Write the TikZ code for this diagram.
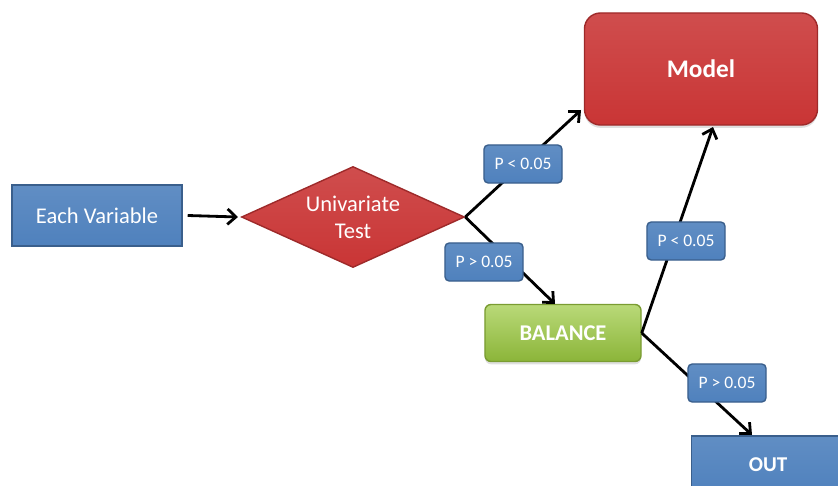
\documentclass[tikz,border=0pt]{standalone}
\usepackage{fontspec}
\setmainfont{Carlito}
\usetikzlibrary{arrows.meta,shapes.geometric,shadows}
\definecolor{stepblue}{HTML}{4F81BD}
\definecolor{stepblueline}{HTML}{3A5F8C}
\definecolor{testred}{HTML}{C93535}
\definecolor{testredline}{HTML}{9E2A2A}
\definecolor{balgreen}{HTML}{9BC93F}
\definecolor{balgreenline}{HTML}{7A9C32}

\tikzset{
  bluebox/.style={draw=stepblueline, line width=1pt, top color=stepblue!90!white,
    bottom color=stepblue, text=white, font=\fontsize{16}{18}\selectfont},
  redbox/.style={draw=testredline, line width=1pt, top color=testred!88!white,
    bottom color=testred, text=white},
  plabel/.style={bluebox, rounded corners=3pt, minimum width=1.95cm,
    minimum height=0.95cm, inner sep=1pt, font=\fontsize{12.5}{14}\selectfont},
  flow/.style={line width=2pt, -{Straight Barb[length=6pt,width=11pt]}}
}

\begin{document}
\begin{tikzpicture}[x=0.025cm, y=-0.025cm]
  \useasboundingbox (0,0) rectangle (838,486);

  % nodes
  \node[bluebox, minimum width=4.25cm, minimum height=1.525cm] (each) at (97,215.5) {Each Variable};
  \node[redbox, diamond, aspect=2.2, inner sep=0pt, minimum width=5.575cm,
        minimum height=2.525cm, align=center, font=\fontsize{16}{19}\selectfont] (test) at (353,217) {Univariate\\Test};
  \node[redbox, rounded corners=0.4cm, minimum width=5.825cm, minimum height=2.8cm,
        drop shadow={shadow xshift=0pt, shadow yshift=-2pt, opacity=0.25},
        font=\fontsize{18}{20}\selectfont\bfseries] (model) at (701,69) {Model};
  \node[draw=balgreenline, line width=1pt, top color=balgreen!70!white, bottom color=balgreen!90!black,
        text=white, rounded corners=0.15cm, minimum width=3.9cm, minimum height=1.425cm,
        drop shadow={shadow xshift=0pt, shadow yshift=-2pt, opacity=0.25},
        font=\fontsize{16}{18}\selectfont\bfseries] (balance) at (563,333) {BALANCE};
  \node[bluebox, minimum width=3.825cm, minimum height=1.45cm,
        font=\fontsize{15}{17}\selectfont\bfseries] (out) at (768,465) {OUT};

  \coordinate (modelhit) at (581,110);
  \coordinate (modelbot) at (713,127);
  \coordinate (balhit) at (555,304);
  \coordinate (outhit) at (752,435);

  % connectors
  \draw[flow] (each.east) ++(5,0) -- ([xshift=-2pt]test.west);
  \draw[flow] (test.east) -- (modelhit);
  \draw[flow] (test.east) -- (balhit);
  \draw[flow] (balance.east) -- (modelbot);
  \draw[flow] (balance.east) -- (outhit);

  % labels
  \node[plabel] (lowa) at (523,164) {P < 0.05};
  \node[plabel] (higha) at (484,262) {P > 0.05};
  \node[plabel] (lowb) at (686,241) {P < 0.05};
  \node[plabel] (highb) at (727,383) {P > 0.05};
\end{tikzpicture}
\end{document}
